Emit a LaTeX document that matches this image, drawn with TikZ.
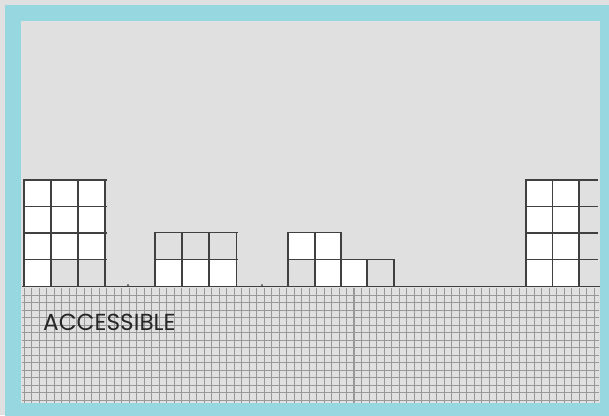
\documentclass[tikz,border=0pt]{standalone}
\usepackage{fontspec}
\newfontfamily\labelfont{Poppins}
\definecolor{bggrey}{HTML}{E0E0E0}
\definecolor{frame}{HTML}{96D7E0}
\definecolor{gridline}{HTML}{989898}
\definecolor{bldline}{HTML}{404040}
\tikzset{
  gridln/.style={draw=gridline, line width=1pt},
  bld/.style={draw=bldline, line width=1.3pt},
  lbl/.style={font=\labelfont\fontsize{23.2}{23.2}\selectfont, text=black!85, inner sep=0pt, anchor=west}
}
\begin{document}
\begin{tikzpicture}[x=1pt,y=-1pt]
\useasboundingbox (0,0) rectangle (609,415);
\fill[bggrey] (0,0) rectangle (609,415);
\fill[frame] (5,5) rectangle (612,418);
\fill[bggrey] (21,21) rectangle (600,403);
% ground grid
\foreach \i in {0,...,76} {\draw[gridln] ({24+7.5*\i},288) -- ({24+7.5*\i},403);}
\foreach \j in {0,...,14} {\draw[gridln] (22,{295+7.5*\j}) -- (599,{295+7.5*\j});}
\draw[draw=gridline, line width=1pt] (353,288) -- (353,403);
% ground line
\draw[draw=bldline, line width=0.8pt] (22,286) -- (600,286);
\fill[bldline] (128,285) circle (1);
\fill[bldline] (262,285) circle (1);
% left block
\fill[white] (24,180) rectangle (105,259.5);
\fill[white] (24,259.5) rectangle (51,286);
\foreach \y in {180,206.5,233,259.5} {\draw[bld] (24,\y) -- (107,\y);}
\foreach \x in {24,51,78,105} {\draw[bld] (\x,179) -- (\x,286);}
% middle block 1
\fill[white] (155,259.5) rectangle (236.5,286);
\foreach \y in {232.7,259.5} {\draw[bld] (155,\y) -- (237.5,\y);}
\foreach \x in {155,182,209,236.5} {\draw[bld] (\x,232) -- (\x,286);}
% middle block 2
\fill[white] (288,232.7) rectangle (341,259.5);
\fill[white] (315,259.5) rectangle (367,286);
\draw[bld] (288,232.7) -- (342,232.7);
\draw[bld] (288,259.5) -- (395,259.5);
\foreach \x in {288,315,341} {\draw[bld] (\x,232) -- (\x,286);}
\foreach \x in {367,394} {\draw[bld] (\x,259) -- (\x,286);}
% right block
\fill[white] (526,180) rectangle (579,286);
\foreach \y in {180,206.5,233,259.5} {\draw[bld] (526,\y) -- (598,\y);}
\foreach \x in {526,552.7,579} {\draw[bld] (\x,179) -- (\x,286);}
% label
\node[lbl] (label) at (43,322) {ACCESSIBLE};
\end{tikzpicture}
\end{document}
